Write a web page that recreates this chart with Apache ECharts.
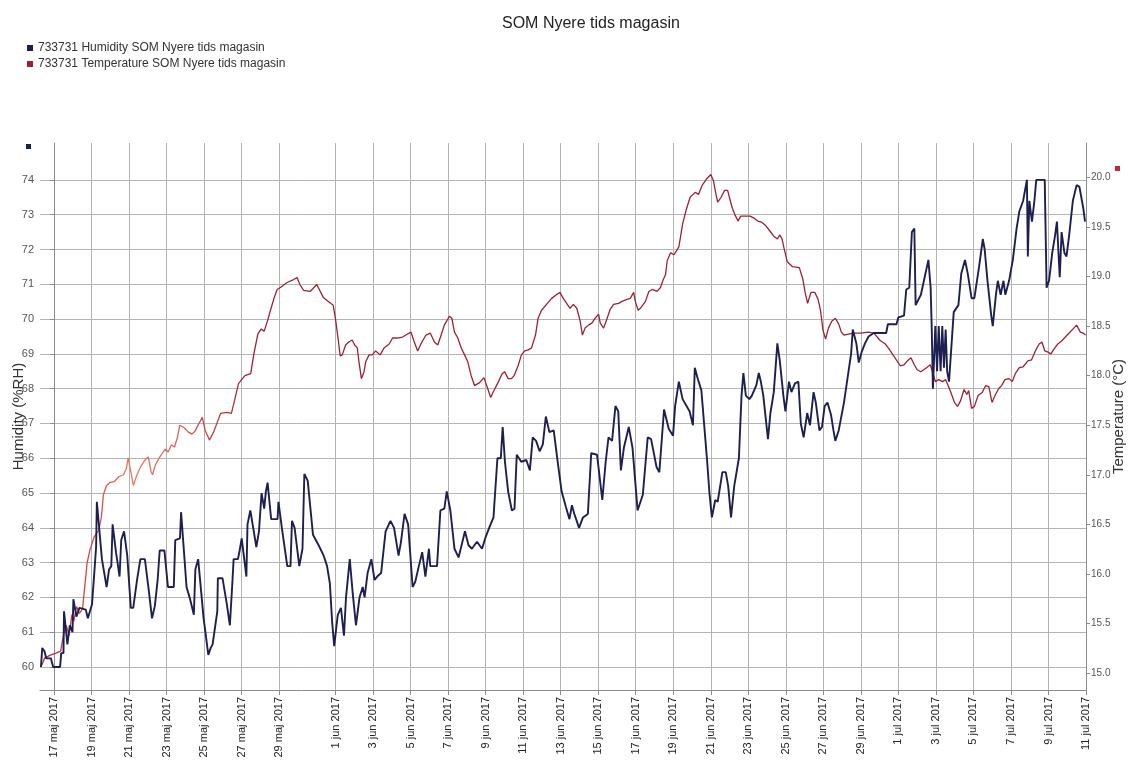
<!DOCTYPE html>
<html>
<head>
<meta charset="utf-8">
<script src="https://cdn.jsdelivr.net/npm/echarts@6/dist/echarts.min.js"></script>
<style>
  html, body { margin: 0; padding: 0; background: #ffffff; }
  #chart { width: 1131px; height: 769px; }
</style>
</head>
<body>
<div id="chart"></div>
<script>
// Time is counted in days from 17 maj 2017 00:00.
const tickDays = [0, 2, 4, 6, 8, 10, 12, 15, 17, 19, 21, 23, 25, 27, 29, 31, 33, 35, 37, 39, 41, 43, 45, 47, 49, 51, 53, 55];
const tickLabels = [
  '17 maj 2017', '19 maj 2017', '21 maj 2017', '23 maj 2017', '25 maj 2017', '27 maj 2017', '29 maj 2017',
  '1 jun 2017', '3 jun 2017', '5 jun 2017', '7 jun 2017', '9 jun 2017', '11 jun 2017', '13 jun 2017',
  '15 jun 2017', '17 jun 2017', '19 jun 2017', '21 jun 2017', '23 jun 2017', '25 jun 2017', '27 jun 2017',
  '29 jun 2017', '1 jul 2017', '3 jul 2017', '5 jul 2017', '7 jul 2017', '9 jul 2017', '11 jul 2017'
];
const humidityTicks = [60, 61, 62, 63, 64, 65, 66, 67, 68, 69, 70, 71, 72, 73, 74];
const temperatureTicks = [15.0, 15.5, 16.0, 16.5, 17.0, 17.5, 18.0, 18.5, 19.0, 19.5, 20.0];

const humidityName = '733731 Humidity SOM Nyere tids magasin';
const temperatureName = '733731 Temperature SOM Nyere tids magasin';

// Logger readings: [day, %RH]
const humidity = [
  [-0.7,60.0],[-0.63,60.55],[-0.51,60.45],[-0.42,60.25],[-0.17,60.25],[-0.05,60.0],[0.32,60.0],[0.38,60.4],[0.5,60.4],[0.53,61.6],
  [0.71,60.65],[0.84,61.2],[0.98,61.0],[1.03,61.95],[1.19,61.45],[1.35,61.7],[1.69,61.65],[1.8,61.4],[1.88,61.4],[2.02,61.8],
  [2.13,62.6],[2.24,63.45],[2.28,64.75],[2.34,64.7],[2.55,63.1],[2.8,62.3],[2.93,62.8],[3.05,62.9],[3.12,64.1],[3.3,63.3],
  [3.49,62.6],[3.58,63.65],[3.73,63.9],[3.9,63.2],[4.09,61.7],[4.22,61.7],[4.42,62.5],[4.6,63.1],[4.84,63.1],[5.07,62.1],
  [5.22,61.4],[5.37,61.75],[5.52,62.5],[5.63,63.35],[5.88,63.35],[6.07,62.3],[6.38,62.3],[6.46,63.65],[6.71,63.7],[6.77,64.45],
  [7.06,62.3],[7.25,61.95],[7.45,61.5],[7.53,62.8],[7.68,63.1],[7.97,61.4],[8.09,60.9],[8.22,60.35],[8.35,60.55],[8.45,60.65],
  [8.7,61.6],[8.73,62.55],[8.98,62.55],[9.21,61.8],[9.37,61.2],[9.5,62.4],[9.57,63.1],[9.8,63.1],[9.89,63.35],[10.0,63.7],
  [10.25,62.6],[10.31,64.1],[10.46,64.5],[10.78,63.45],[10.92,63.9],[11.06,65.0],[11.2,64.55],[11.29,65.05],[11.38,65.3],[11.57,64.25],
  [11.91,64.25],[11.96,64.75],[12.14,64.0],[12.43,62.9],[12.6,62.9],[12.68,64.2],[12.82,64.0],[13.07,62.9],[13.24,63.4],[13.34,65.55],
  [13.52,65.35],[13.8,63.8],[14.1,63.5],[14.37,63.2],[14.55,62.9],[14.7,62.4],[14.82,61.3],[14.93,60.6],[15.12,61.5],[15.29,61.7],
  [15.45,60.9],[15.56,62.0],[15.76,63.1],[15.92,62.1],[16.09,61.2],[16.28,62.0],[16.45,62.3],[16.55,62.0],[16.71,62.7],[16.91,63.1],
  [17.08,62.5],[17.22,62.6],[17.43,62.7],[17.67,63.9],[17.93,64.2],[18.12,64.0],[18.36,63.2],[18.49,63.6],[18.68,64.4],[18.87,64.1],
  [19.11,62.3],[19.25,62.45],[19.42,62.85],[19.62,63.3],[19.79,62.6],[19.98,63.4],[20.05,62.9],[20.41,62.9],[20.59,64.5],[20.8,64.55],
  [20.93,65.05],[21.12,64.5],[21.34,63.4],[21.56,63.15],[21.9,63.9],[22.09,63.5],[22.27,63.4],[22.54,63.6],[22.81,63.4],[22.98,63.7],
  [23.19,64.0],[23.42,64.3],[23.63,66.0],[23.81,66.0],[23.91,66.9],[24.03,65.9],[24.2,65.05],[24.4,64.5],[24.54,64.55],[24.66,66.1],
  [24.9,65.9],[25.17,65.95],[25.36,65.65],[25.51,66.6],[25.69,66.5],[25.88,66.2],[26.05,66.4],[26.21,67.2],[26.4,66.75],[26.63,66.8],
  [26.84,65.9],[27.05,65.05],[27.28,64.6],[27.47,64.25],[27.6,64.65],[27.73,64.4],[27.98,64.0],[28.19,64.3],[28.45,64.4],[28.63,66.15],
  [28.94,66.1],[29.22,64.8],[29.4,65.9],[29.55,66.6],[29.74,66.5],[29.92,67.5],[30.07,67.35],[30.21,65.65],[30.37,66.3],[30.63,66.9],
  [30.83,66.3],[31.1,64.5],[31.38,64.95],[31.64,66.6],[31.82,66.55],[32.11,65.75],[32.26,65.6],[32.51,67.4],[32.76,66.85],[32.99,66.65],
  [33.1,67.5],[33.3,68.2],[33.5,67.7],[33.87,67.35],[34.05,66.95],[34.15,68.6],[34.3,68.3],[34.5,67.95],[34.6,67.9],[34.81,65.9],
  [34.93,65.0],[35.06,64.3],[35.24,64.8],[35.37,64.75],[35.62,65.6],[35.8,65.6],[35.93,65.2],[36.08,64.3],[36.25,65.2],[36.5,66.0],
  [36.64,67.8],[36.74,68.45],[36.87,67.8],[37.06,67.7],[37.19,67.8],[37.43,68.1],[37.56,68.45],[37.67,68.2],[37.8,67.8],[38.05,66.55],
  [38.18,67.3],[38.36,67.9],[38.55,69.3],[38.68,68.8],[38.87,67.8],[38.98,67.35],[39.17,68.2],[39.3,67.9],[39.49,68.15],[39.67,68.2],
  [39.8,67.0],[39.95,66.6],[40.14,67.3],[40.29,66.95],[40.48,67.9],[40.6,67.6],[40.79,66.8],[40.93,66.9],[41.07,67.5],[41.22,67.6],
  [41.41,67.25],[41.54,66.8],[41.64,66.5],[41.82,66.8],[42.1,67.6],[42.29,68.3],[42.48,69.0],[42.57,69.7],[42.66,69.65],[42.76,69.3],
  [42.89,68.75],[43.04,69.05],[43.22,69.3],[43.41,69.5],[43.69,69.6],[44.35,69.6],[44.44,69.85],[44.9,69.85],[45.0,70.05],[45.3,70.1],
  [45.42,70.85],[45.58,70.9],[45.72,72.5],[45.85,72.6],[45.92,70.4],[46.2,70.7],[46.6,71.7],[46.72,70.9],[46.78,69.7],[46.84,68.0],
  [46.97,69.8],[47.06,68.5],[47.15,69.8],[47.25,68.5],[47.34,69.8],[47.43,68.6],[47.52,69.7],[47.6,68.5],[47.7,68.2],[47.95,70.2],
  [48.2,70.4],[48.35,71.3],[48.55,71.7],[48.7,71.3],[48.9,70.6],[49.05,70.6],[49.3,71.5],[49.5,72.3],[49.6,72.0],[49.75,71.1],
  [49.95,70.1],[50.03,69.8],[50.2,70.7],[50.3,71.1],[50.45,70.7],[50.6,71.1],[50.7,70.7],[50.9,71.1],[51.1,71.7],[51.3,72.6],
  [51.45,73.1],[51.65,73.4],[51.85,74.0],[51.9,71.8],[51.98,73.4],[52.12,72.8],[52.25,73.4],[52.35,74.0],[52.8,74.0],[52.9,70.9],
  [53.03,71.1],[53.2,71.9],[53.35,72.4],[53.45,72.8],[53.6,71.2],[53.7,72.5],[53.85,71.9],[53.96,71.8],[54.1,72.4],[54.3,73.4],
  [54.5,73.85],[54.65,73.8],[54.85,73.2],[54.95,72.8]
];

// Logger readings: [day, °C]
const temperature = [
  [-0.7,15.06],[-0.5,15.15],[-0.2,15.18],[0.1,15.20],[0.35,15.22],[0.5,15.38],[0.65,15.48],[0.8,15.38],[0.95,15.59],[1.05,15.52],
  [1.2,15.67],[1.35,15.60],[1.52,15.65],[1.76,16.11],[1.91,16.24],[2.13,16.37],[2.38,16.44],[2.52,16.57],[2.63,16.80],[2.79,16.89],
  [2.96,16.92],[3.2,16.93],[3.45,16.98],[3.7,17.00],[3.85,17.06],[3.95,17.17],[4.23,16.89],[4.38,16.98],[4.61,17.08],[4.85,17.15],
  [5.02,17.18],[5.17,17.03],[5.25,17.00],[5.4,17.10],[5.64,17.18],[5.92,17.26],[6.08,17.23],[6.25,17.30],[6.42,17.28],[6.58,17.38],
  [6.7,17.50],[6.9,17.48],[7.16,17.43],[7.35,17.41],[7.51,17.44],[7.9,17.58],[8.05,17.45],[8.28,17.35],[8.5,17.43],[8.88,17.62],
  [9.23,17.63],[9.45,17.62],[9.62,17.75],[9.83,17.92],[10.17,18.00],[10.48,18.02],[10.65,18.22],[10.86,18.42],[11.03,18.47],[11.2,18.45],
  [11.37,18.55],[11.55,18.67],[11.72,18.78],[11.89,18.87],[12.06,18.89],[12.42,18.94],[12.77,18.97],[12.95,18.99],[13.1,18.92],[13.3,18.86],
  [13.65,18.85],[14.0,18.92],[14.35,18.79],[14.6,18.75],[14.88,18.71],[15.0,18.57],[15.12,18.40],[15.25,18.20],[15.36,18.21],[15.54,18.31],
  [15.71,18.34],[15.89,18.36],[16.02,18.31],[16.16,18.28],[16.25,18.14],[16.38,17.97],[16.52,18.04],[16.61,18.14],[16.79,18.21],[16.96,18.21],
  [17.14,18.25],[17.38,18.21],[17.59,18.28],[17.86,18.32],[18.04,18.38],[18.3,18.38],[18.57,18.39],[18.75,18.41],[19.02,18.44],[19.2,18.34],
  [19.38,18.25],[19.55,18.32],[19.82,18.41],[20.05,18.43],[20.27,18.34],[20.45,18.31],[20.63,18.41],[20.8,18.51],[21.07,18.60],[21.2,18.58],
  [21.34,18.44],[21.52,18.38],[21.7,18.28],[21.88,18.21],[22.05,18.14],[22.23,18.00],[22.41,17.90],[22.68,17.93],[22.91,17.98],[23.13,17.86],
  [23.27,17.78],[23.39,17.83],[23.66,17.93],[23.88,18.02],[24.02,18.04],[24.2,17.97],[24.38,17.97],[24.52,18.00],[24.73,18.10],[24.91,18.21],
  [25.09,18.25],[25.27,18.26],[25.45,18.28],[25.66,18.41],[25.8,18.58],[25.98,18.66],[26.25,18.72],[26.52,18.78],[26.79,18.82],[26.96,18.84],
  [27.14,18.78],[27.32,18.73],[27.5,18.68],[27.68,18.72],[27.86,18.68],[28.04,18.55],[28.16,18.41],[28.3,18.48],[28.48,18.51],[28.66,18.53],
  [28.84,18.58],[29.02,18.62],[29.11,18.53],[29.29,18.48],[29.46,18.57],[29.64,18.67],[29.82,18.72],[30.09,18.73],[30.27,18.75],[30.54,18.77],
  [30.71,18.78],[30.89,18.84],[30.98,18.75],[31.13,18.66],[31.25,18.68],[31.52,18.75],[31.7,18.85],[31.88,18.87],[32.14,18.85],[32.32,18.89],
  [32.45,18.96],[32.59,19.02],[32.68,19.16],[32.86,19.24],[33.04,19.22],[33.3,19.30],[33.5,19.53],[33.7,19.68],[33.9,19.80],[34.17,19.85],
  [34.35,19.83],[34.54,19.92],[34.8,19.99],[35.0,20.03],[35.14,19.97],[35.28,19.83],[35.37,19.75],[35.55,19.80],[35.74,19.87],[35.9,19.87],
  [36.02,19.78],[36.15,19.69],[36.3,19.62],[36.45,19.56],[36.6,19.61],[36.76,19.61],[37.1,19.61],[37.3,19.59],[37.5,19.56],[37.7,19.55],
  [37.95,19.51],[38.15,19.46],[38.35,19.41],[38.55,19.38],[38.68,19.42],[38.8,19.38],[38.9,19.29],[39.08,19.15],[39.36,19.10],[39.72,19.09],
  [39.9,18.98],[40.03,18.84],[40.16,18.73],[40.34,18.84],[40.55,18.84],[40.72,18.77],[40.85,18.66],[40.98,18.46],[41.12,18.37],[41.27,18.48],
  [41.45,18.55],[41.64,18.58],[41.82,18.52],[41.96,18.44],[42.1,18.41],[42.35,18.42],[42.6,18.43],[43.0,18.43],[43.4,18.44],[43.7,18.43],
  [44.0,18.36],[44.3,18.32],[44.5,18.27],[44.75,18.20],[45.1,18.10],[45.3,18.11],[45.48,18.15],[45.67,18.18],[45.85,18.11],[46.0,18.06],
  [46.2,18.04],[46.5,18.08],[46.7,18.11],[46.82,18.04],[46.97,17.94],[47.15,17.96],[47.35,17.94],[47.52,17.96],[47.65,17.90],[47.8,17.83],
  [47.99,17.73],[48.15,17.69],[48.3,17.74],[48.5,17.86],[48.65,17.81],[48.75,17.85],[48.9,17.67],[49.05,17.69],[49.25,17.80],[49.47,17.83],
  [49.65,17.90],[49.82,17.89],[49.99,17.73],[50.15,17.80],[50.35,17.87],[50.5,17.90],[50.68,17.96],[50.9,17.97],[51.07,17.94],[51.23,18.02],
  [51.45,18.08],[51.65,18.09],[51.9,18.15],[52.1,18.16],[52.3,18.25],[52.5,18.32],[52.65,18.34],[52.8,18.25],[52.95,18.24],[53.13,18.22],
  [53.3,18.27],[53.5,18.32],[53.7,18.35],[53.9,18.39],[54.1,18.43],[54.3,18.47],[54.5,18.51],[54.7,18.44],[54.85,18.43],[54.98,18.41]
];

const HUM_COLOR = '#1c2050';
const TEMP_COLOR = '#9b2233';
const GRID_COLOR = '#b4b4b4';
const AXIS_COLOR = '#8c8c8c';
const FONT = 'Liberation Sans, Arial, sans-serif';

function dayLabel(v) {
  let best = 0;
  for (let i = 1; i < tickDays.length; i++) {
    if (Math.abs(tickDays[i] - v) < Math.abs(tickDays[best] - v)) best = i;
  }
  return tickLabels[best];
}

const chart = echarts.init(document.getElementById('chart'), null, { renderer: 'canvas' });

chart.setOption({
  backgroundColor: '#ffffff',
  animation: false,
  textStyle: { fontFamily: FONT },
  title: {
    text: 'SOM Nyere tids magasin',
    left: 497,
    top: 11,
    textStyle: { fontSize: 16, fontWeight: 'normal', color: '#222', fontFamily: FONT }
  },
  legend: {
    orient: 'vertical',
    left: 22,
    top: 37,
    itemGap: 4,
    itemWidth: 6,
    itemHeight: 6,
    icon: 'rect',
    selectedMode: false,
    data: [humidityName, temperatureName],
    textStyle: { fontSize: 12, color: '#333', fontFamily: FONT }
  },
  grid: { left: 40, right: 45, top: 143, bottom: 79, containLabel: false, outerBoundsMode: 'none' },
  xAxis: {
    type: 'value',
    min: -0.75,
    max: 55,
    axisLine: { show: true, onZero: false, lineStyle: { color: AXIS_COLOR, width: 1 } },
    axisTick: { show: true, length: 5, customValues: tickDays, lineStyle: { color: AXIS_COLOR } },
    axisLabel: {
      customValues: tickDays,
      rotate: 90,
      margin: 7,
      fontSize: 11,
      color: '#222',
      fontFamily: FONT,
      formatter: dayLabel
    },
    splitLine: { show: true, lineStyle: { color: GRID_COLOR, width: 1 } }
  },
  yAxis: [
    {
      type: 'value',
      position: 'left',
      min: 59.34,
      max: 75.06,
      name: 'Humidity (%RH)',
      nameLocation: 'middle',
      nameGap: 14,
      nameMoveOverlap: false,
      nameRotate: 90,
      nameTextStyle: { fontSize: 15, color: '#333', fontFamily: FONT },
      axisLine: { show: true, lineStyle: { color: AXIS_COLOR, width: 1 } },
      axisTick: { show: true, length: 4, customValues: humidityTicks, lineStyle: { color: AXIS_COLOR } },
      axisLabel: { customValues: humidityTicks, fontSize: 11, color: '#555', margin: 6, fontFamily: FONT },
      splitLine: { show: true, lineStyle: { color: GRID_COLOR, width: 1 } }
    },
    {
      type: 'value',
      position: 'right',
      min: 14.828,
      max: 20.348,
      name: 'Temperature (°C)',
      nameLocation: 'middle',
      nameGap: 25,
      nameMoveOverlap: false,
      nameRotate: 90,
      nameTextStyle: { fontSize: 15, color: '#333', fontFamily: FONT },
      axisLine: { show: true, lineStyle: { color: AXIS_COLOR, width: 1 } },
      axisTick: { show: true, length: 4, customValues: temperatureTicks, lineStyle: { color: AXIS_COLOR } },
      axisLabel: {
        customValues: temperatureTicks,
        fontSize: 10,
        color: '#555',
        margin: 5,
        fontFamily: FONT,
        formatter: v => v.toFixed(1)
      },
      splitLine: { show: false }
    }
  ],
  graphic: [
    { type: 'rect', left: 26, top: 144, shape: { width: 5, height: 5 }, style: { fill: HUM_COLOR } },
    { type: 'rect', left: 1115, top: 166, shape: { width: 5, height: 5 }, style: { fill: '#c0283c' } }
  ],
  series: [
    {
      name: temperatureName,
      type: 'line',
      yAxisIndex: 1,
      data: temperature,
      showSymbol: false,
      symbol: 'none',
      sampling: null,
      z: 2,
      itemStyle: { color: TEMP_COLOR },
      lineStyle: {
        width: 1.3,
        color: new echarts.graphic.LinearGradient(40, 0, 1086, 0, [
          { offset: 0.0, color: '#b0283c' },
          { offset: 0.05, color: '#d8464a' },
          { offset: 0.09, color: '#ec7a68' },
          { offset: 0.14, color: '#d45a55' },
          { offset: 0.2, color: TEMP_COLOR },
          { offset: 1.0, color: TEMP_COLOR }
        ], true)
      }
    },
    {
      name: humidityName,
      type: 'line',
      yAxisIndex: 0,
      data: humidity,
      showSymbol: false,
      symbol: 'none',
      sampling: null,
      z: 3,
      itemStyle: { color: HUM_COLOR },
      lineStyle: { width: 1.9, color: HUM_COLOR }
    }
  ]
});
</script>
</body>
</html>
